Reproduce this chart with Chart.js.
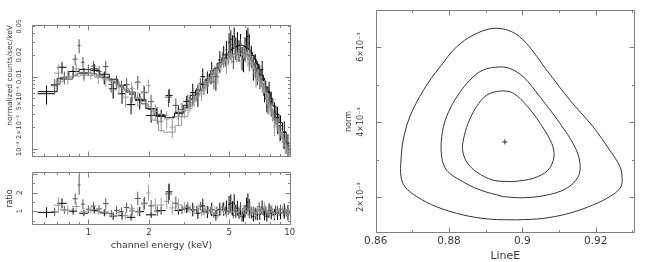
<!DOCTYPE html>
<html><head><meta charset="utf-8">
<script src="https://cdn.jsdelivr.net/npm/chart.js@4"></script>
<style>
html,body{margin:0;padding:0;background:#fff;width:657px;height:262px;overflow:hidden}
canvas{position:absolute}
#c1{left:0;top:0}
#c2{left:0;top:158px}
#c3{left:330px;top:0}
</style></head><body>
<canvas id="c1" width="300" height="161"></canvas>
<canvas id="c2" width="300" height="104"></canvas>
<canvas id="c3" width="327" height="262"></canvas>
<script>
// ---------- spectrum data (keV, counts/s/keV) ----------
// series 1 (black)
const s1E  = [0.62,0.74,0.84,0.95,1.07,1.20,1.33,1.47,1.63,1.80,2.05,2.30,2.52,2.80,3.08,
              3.30,3.50,3.70,3.90,4.10,4.30,4.50,4.70,4.85,5.00,5.10,5.20,5.30,5.40,5.50,5.60,5.70,5.80,5.90,6.00,6.10,6.20,6.30,6.45,6.60,6.75,6.90,7.10,7.30,7.50,7.70,7.90,8.10,8.40,8.70,9.00,9.40,9.80];
const s1dE = [0.06,0.04,0.04,0.05,0.05,0.06,0.06,0.07,0.08,0.09,0.12,0.12,0.10,0.12,0.12,
              0.1,0.1,0.1,0.1,0.1,0.1,0.1,0.1,0.05,0.05,0.05,0.05,0.05,0.05,0.05,0.05,0.05,0.05,0.05,0.05,0.05,0.05,0.05,0.075,0.075,0.075,0.075,0.1,0.1,0.1,0.1,0.1,0.1,0.15,0.15,0.15,0.2,0.2];
const s1F  = [.0058,.0135,.0118,.0112,.0128,.0098,.0068,.0058,.0041,.0047,.0029,.0029,.0055,.0032,.0045,
              .0060,.0058,.0100,.0088,.0120,.0100,.0170,.0200,.0235,.0300,.0330,.0280,.0360,.0260,.0310,.0240,.0290,.0190,.0180,.0260,.0330,.0360,.0290,.0200,.0140,.0150,.0120,.0105,.0125,.0070,.0052,.0062,.0045,.0032,.0027,.0021,.0017,.0011];
const s1dF = [.0017,.0025,.0022,.0020,.0022,.0020,.0018,.0016,.0011,.0012,.0006,.0006,.0012,.0007,.0009,
              .0020,.0020,.0030,.0030,.0040,.0036,.0055,.0065,.0080,.0100,.0110,.0095,.0120,.0090,.0105,.0080,.0100,.0068,.0065,.0090,.0110,.0120,.0100,.0068,.0052,.0055,.0044,.0038,.0040,.0026,.0020,.0023,.0017,.0012,.0011,.0008,.0007,.0005];
const s1M  = [.0062,.0095,.0118,.0126,.0122,.0108,.0092,.0076,.0061,.0048,.0036,.0028,.0027,.0031,.0040,
              .0055,.0065,.0078,.0092,.0110,.0130,.0155,.0180,.0200,.0220,.0232,.0243,.0252,.0260,.0266,.0270,.0272,.0271,.0268,.0262,.0255,.0246,.0236,.0218,.0196,.0173,.0150,.0126,.0105,.0087,.0072,.0060,.0050,.0039,.0030,.0023,.0017,.0012];
// series 2 (dark grey)
const s2E  = [0.68,0.76,0.86,0.90,0.94,1.00,1.06,1.13,1.22,1.30,1.38,1.46,1.55,1.65,1.76,1.90,2.05,2.20,2.50,2.72,2.92,3.12,
              3.30,3.45,3.60,3.75,3.90,4.05,4.20,4.35,4.50,4.65,4.80,4.95,5.10,5.25,5.40,5.55,5.70,5.85,6.00,6.15,6.30,6.45,6.60,6.75,6.90,7.05,7.20,7.40,7.60,7.80,8.00,8.25,8.50,8.75,9.00,9.30,9.60,9.90];
const s2dE = [0.03,0.035,0.025,0.015,0.02,0.03,0.03,0.035,0.04,0.04,0.04,0.04,0.05,0.05,0.06,0.07,0.07,0.08,0.1,0.1,0.1,0.1,
              0.075,0.075,0.075,0.075,0.075,0.075,0.075,0.075,0.075,0.075,0.075,0.075,0.075,0.075,0.075,0.075,0.075,0.075,0.075,0.075,0.075,0.075,0.075,0.075,0.075,0.075,0.075,0.1,0.1,0.1,0.1,0.125,0.125,0.125,0.125,0.15,0.15,0.15];
const s2F  = [.0075,.0098,.0175,.0270,.0158,.0125,.0140,.0118,.0138,.0078,.0085,.0072,.0078,.0058,.0084,.0060,.0045,.0030,.0052,.0040,.0035,.0046,
              .0050,.0058,.0080,.0070,.0084,.0098,.0085,.0128,.0140,.0185,.0175,.0182,.0215,.0160,.0230,.0205,.0280,.0215,.0200,.0240,.0150,.0175,.0160,.0130,.0120,.0125,.0090,.0068,.0060,.0038,.0043,.0030,.0028,.0020,.0019,.0013,.0011,.00095];
const s2dF = [.0018,.0020,.0030,.0060,.0030,.0022,.0025,.0022,.0028,.0018,.0018,.0016,.0017,.0014,.0018,.0014,.0011,.0008,.0014,.0010,.0008,.0010,
              .0010,.0012,.0015,.0014,.0017,.0020,.0018,.0026,.0028,.0035,.0035,.0036,.0043,.0034,.0046,.0041,.0052,.0043,.0040,.0048,.0032,.0035,.0032,.0026,.0024,.0024,.0018,.0014,.0012,.0008,.0009,.0006,.0006,.0004,.0004,.0003,.00025,.0002];
const s2M  = [.0078,.0092,.0105,.0112,.0115,.0113,.0110,.0105,.0098,.0090,.0082,.0073,.0065,.0057,.0050,.0042,.0035,.0030,.0027,.0028,.0032,.0038,
              .0048,.0055,.0063,.0072,.0082,.0095,.0108,.0122,.0137,.0152,.0168,.0183,.0196,.0207,.0215,.0220,.0222,.0220,.0213,.0202,.0188,.0170,.0152,.0133,.0115,.0099,.0085,.0070,.0058,.0048,.0040,.0032,.0026,.0021,.0017,.0014,.0012,.0010];
// series 3 (light grey)
const s3E  = [0.71,0.79,0.87,0.95,1.03,1.12,1.22,1.32,1.42,1.53,1.64,1.76,1.88,1.99,2.15,2.30,2.45,2.61,2.80,3.00,
              3.20,3.35,3.50,3.65,3.80,3.95,4.10,4.25,4.40,4.55,4.70,4.85,5.00,5.15,5.30,5.45,5.60,5.75,5.90,6.05,6.20,6.35,6.50,6.65,6.80,6.95,7.10,7.30,7.50,7.70,7.90,8.15,8.40,8.65,8.90,9.20,9.50,9.80];
const s3dE = [0.035,0.04,0.04,0.04,0.04,0.045,0.05,0.05,0.05,0.055,0.055,0.06,0.06,0.05,0.08,0.07,0.08,0.08,0.1,0.1,
              0.075,0.075,0.075,0.075,0.075,0.075,0.075,0.075,0.075,0.075,0.075,0.075,0.075,0.075,0.075,0.075,0.075,0.075,0.075,0.075,0.075,0.075,0.075,0.075,0.075,0.075,0.075,0.1,0.1,0.1,0.1,0.125,0.125,0.125,0.125,0.15,0.15,0.15];
const s3F  = [.0112,.0100,.0128,.0105,.0112,.0098,.0090,.0065,.0072,.0052,.0068,.0050,.0062,.0075,.0033,.0024,.0026,.0020,.0028,.0034,
              .0040,.0048,.0062,.0058,.0080,.0090,.0105,.0118,.0100,.0150,.0165,.0140,.0200,.0190,.0225,.0195,.0215,.0160,.0220,.0195,.0175,.0210,.0150,.0135,.0090,.0105,.0085,.0075,.0075,.0052,.0038,.0036,.0020,.0022,.0016,.0015,.0011,.0009];
const s3dF = [.0035,.0022,.0025,.0020,.0020,.0019,.0018,.0016,.0016,.0014,.0015,.0012,.0014,.0016,.0009,.0007,.0007,.0006,.0007,.0008,
              .0008,.0010,.0012,.0012,.0016,.0018,.0021,.0024,.0022,.0030,.0033,.0030,.0040,.0038,.0045,.0039,.0043,.0034,.0044,.0039,.0035,.0040,.0030,.0027,.0020,.0021,.0017,.0015,.0014,.0010,.0008,.0007,.0005,.00045,.00035,.0003,.00025,.0002];
const s3M  = [.0085,.0095,.0102,.0105,.0104,.0100,.0094,.0086,.0077,.0068,.0060,.0052,.0045,.0038,.0025,.0018,.0017,.0017,.0021,.0028,
              .0036,.0045,.0054,.0063,.0073,.0085,.0098,.0112,.0127,.0143,.0158,.0172,.0185,.0195,.0203,.0208,.0210,.0208,.0202,.0193,.0180,.0165,.0149,.0132,.0116,.0100,.0087,.0072,.0060,.0049,.0040,.0032,.0026,.0021,.0017,.0014,.0011,.00095];

// ---------- axis ticks / labels ----------
const specXTicks  = [1, 2, 5, 10];
const specXLabels = ['1', '2', '5', '10'];
const specXMinor  = [0.6, 0.7, 0.8, 0.9, 3, 4, 6, 7, 8, 9];
const specYTicks  = [0.001, 0.002, 0.005, 0.01, 0.02, 0.05];
const specYLabels = ['10⁻³', '2×10⁻³', '5×10⁻³', '0.01', '0.02', '0.05'];
const specYMajor  = [0.001, 0.01];
const specYMinor  = [0.0008, 0.0009, 0.002, 0.003, 0.004, 0.005, 0.006, 0.007, 0.008, 0.009, 0.02, 0.03, 0.04, 0.05];
const ratioYTicks  = [1, 2];
const ratioYLabels = ['1', '2'];
const ratioYMajor  = [1, 2, 3];
const ratioYMinor  = [0.5, 1.5, 2.5];

// ---------- contour (LineE vs norm) ----------
const cont1E = [0.8975,0.9030,0.9070,0.9086,0.9080,0.9048,0.9011,0.8975,0.8943,0.8903,0.8875,0.8852,0.8839,0.8837,0.8848,0.8875,0.8920,0.8975];
const cont1N = [2.41e-3,2.50e-3,2.72e-3,3.07e-3,3.43e-3,3.97e-3,4.45e-3,4.77e-3,4.83e-3,4.72e-3,4.41e-3,3.97e-3,3.52e-3,3.25e-3,2.94e-3,2.67e-3,2.45e-3,2.41e-3];
const cont2E = [0.8948,0.9002,0.9066,0.9120,0.9152,0.9157,0.9143,0.9102,0.9048,0.9002,0.8966,0.8939,0.8893,0.8857,0.8821,0.8793,0.8780,0.8780,0.8793,0.8830,0.8884,0.8948];
const cont2N = [2.01e-3,1.98e-3,2.05e-3,2.23e-3,2.54e-3,2.90e-3,3.34e-3,3.97e-3,4.67e-3,5.21e-3,5.43e-3,5.47e-3,5.39e-3,5.12e-3,4.67e-3,4.14e-3,3.61e-3,3.07e-3,2.72e-3,2.45e-3,2.19e-3,2.01e-3];
const cont3E = [0.8984,0.9057,0.9129,0.9193,0.9238,0.9266,0.9272,0.9266,0.9238,0.9193,0.9129,0.9066,0.9011,0.8971,0.8920,0.8866,0.8821,0.8775,0.8730,0.8693,0.8675,0.8669,0.8669,0.8680,0.8712,0.8766,0.8839,0.8911,0.8984];
const cont3N = [1.39e-3,1.43e-3,1.57e-3,1.79e-3,2.01e-3,2.23e-3,2.45e-3,2.81e-3,3.25e-3,3.87e-3,4.59e-3,5.39e-3,6.10e-3,6.41e-3,6.50e-3,6.32e-3,6.01e-3,5.47e-3,4.85e-3,4.14e-3,3.52e-3,2.99e-3,2.54e-3,2.27e-3,2.01e-3,1.74e-3,1.52e-3,1.41e-3,1.39e-3];
const bestE = [0.8952];
const bestN = [3.47e-3];
const contXTicks  = [0.86, 0.88, 0.9, 0.92];
const contXLabels = ['0.86', '0.88', '0.9', '0.92'];
const contXMinor  = [0.87, 0.89, 0.91, 0.93];
const contYTicks  = [0.002, 0.004, 0.006];
const contYLabels = ['2×10⁻³', '4×10⁻³', '6×10⁻³'];
const contYMinor  = [0.003, 0.005, 0.007];

// ---------- helpers ----------
const FONT = 'DejaVu Sans';
const TXT = '#3a3a3a';
const FRAME = '#808080';
const COLS = ['#000000', '#555555', '#9a9a9a'];

function crossPts(E, dE, V, dV) {
  const out = [];
  for (let i = 0; i < E.length; i++) {
    out.push({x: E[i] - dE[i], y: V[i]}, {x: E[i] + dE[i], y: V[i]}, {x: E[i], y: null},
             {x: E[i], y: V[i] - dV[i]}, {x: E[i], y: V[i] + dV[i]}, {x: E[i], y: null});
  }
  return out;
}
function stepPts(E, dE, M) {
  const out = [];
  for (let i = 0; i < E.length; i++) out.push({x: E[i] - dE[i], y: M[i]}, {x: E[i] + dE[i], y: M[i]});
  return out;
}
function xyPts(X, Y) { return X.map((x, i) => ({x, y: Y[i]})); }

const frameTicks = {
  id: 'frameTicks',
  afterDatasetsDraw(chart, args, o) {
    const {ctx, chartArea: a} = chart;
    const xs = chart.scales.x, ys = chart.scales.y;
    const L = Math.round(a.left) + 0.5, R = Math.round(a.right) - 0.5;
    const T = Math.round(a.top) + 0.5, B = Math.round(a.bottom) - 0.5;
    ctx.save();
    ctx.strokeStyle = o.color || FRAME; ctx.lineWidth = 1;
    ctx.beginPath();
    ctx.moveTo(L, T); ctx.lineTo(R, T); ctx.lineTo(R, B); ctx.lineTo(L, B); ctx.closePath();
    const xin = v => v >= xs.min && v <= xs.max, yin = v => v >= ys.min && v <= ys.max;
    [[o.xMajor || [], 5], [o.xMinor || [], 2.5]].forEach(([vals, len]) => vals.filter(xin).forEach(v => {
      const p = Math.round(xs.getPixelForValue(v)) + 0.5;
      ctx.moveTo(p, B); ctx.lineTo(p, B - len); ctx.moveTo(p, T); ctx.lineTo(p, T + len);
    }));
    [[o.yMajor || [], 5], [o.yMinor || [], 2.5]].forEach(([vals, len]) => vals.filter(yin).forEach(v => {
      const p = Math.round(ys.getPixelForValue(v)) + 0.5;
      ctx.moveTo(L, p); ctx.lineTo(L + len, p); ctx.moveTo(R, p); ctx.lineTo(R - len, p);
    }));
    ctx.stroke();
    ctx.restore();
  }
};

Chart.defaults.animation = false;
Chart.defaults.responsive = false;
Chart.defaults.devicePixelRatio = 1;
Chart.defaults.events = [];
Chart.defaults.plugins.legend.display = false;
Chart.defaults.plugins.tooltip.enabled = false;
Chart.defaults.font.family = FONT;
Chart.defaults.color = TXT;

const lineDs = (data, color, extra) => Object.assign({data, borderColor: color, borderWidth: 1, showLine: true,
  pointRadius: 0, fill: false, tension: 0}, extra || {});

const series = [
  [s1E, s1dE, s1F, s1dF, s1M],
  [s2E, s2dE, s2F, s2dF, s2M],
  [s3E, s3dE, s3F, s3dF, s3M]
];

// ---------- top: spectrum ----------
const specSets = [];
series.forEach(([E, dE, F, dF, M], k) => {
  specSets.push(lineDs(stepPts(E, dE, M), COLS[k], {stepped: true}));
  specSets.push(lineDs(crossPts(E, dE, F, dF), COLS[k]));
});
specSets.reverse();

new Chart(document.getElementById('c1'), {
  type: 'scatter',
  data: {datasets: specSets},
  options: {
    layout: {padding: {top: 25, right: 9, left: 0, bottom: 1}},
    scales: {
      x: {type: 'logarithmic', min: 0.525, max: 10.15, display: false},
      y: {
        type: 'logarithmic', min: 0.00078, max: 0.052,
        afterFit(s) { s.width = 32; },
        afterBuildTicks(s) { s.ticks = specYTicks.map(v => ({value: v})); },
        grid: {display: false, drawTicks: false},
        border: {display: false},
        ticks: {autoSkip: false, minRotation: 90, maxRotation: 90, crossAlign: 'center', padding: 0.5,
                font: {size: 6.5}, callback: (v, i) => specYLabels[i]},
        title: {display: true, text: 'normalized counts/sec/keV', align: 'end', font: {size: 7.5}, padding: {top: 5.5, bottom: 0}}
      }
    },
    plugins: {frameTicks: {xMajor: specXTicks, xMinor: specXMinor, yMajor: specYMajor, yMinor: specYMinor}}
  },
  plugins: [frameTicks]
});

// ---------- bottom: ratio ----------
const ratioSets = [];
series.forEach(([E, dE, F, dF, M], k) => {
  const R = F.map((f, i) => f / M[i]);
  const dR = dF.map((d, i) => d / M[i]);
  ratioSets.push(lineDs(crossPts(E, dE, R, dR), COLS[k]));
});
ratioSets.reverse();

new Chart(document.getElementById('c2'), {
  type: 'scatter',
  data: {datasets: ratioSets},
  options: {
    layout: {padding: {top: 2, right: 9, left: 0, bottom: 0}},
    scales: {
      x: {
        type: 'logarithmic', min: 0.525, max: 10.15,
        afterFit(s) { s.height = 37; },
        afterBuildTicks(s) { s.ticks = specXTicks.map(v => ({value: v})); },
        grid: {display: false, drawTicks: false},
        border: {display: false},
        ticks: {autoSkip: false, minRotation: 0, maxRotation: 0, padding: 3, font: {size: 8.5},
                callback: (v, i) => specXLabels[i]},
        title: {display: true, text: 'channel energy (keV)', font: {size: 9.5}, padding: {top: 0, bottom: 11}}
      },
      y: {
        type: 'linear', min: 0.26, max: 3.1,
        afterFit(s) { s.width = 32; },
        afterBuildTicks(s) { s.ticks = ratioYTicks.map(v => ({value: v})); },
        grid: {display: false, drawTicks: false},
        border: {display: false},
        ticks: {autoSkip: false, minRotation: 90, maxRotation: 90, crossAlign: 'center', padding: 9.5,
                font: {size: 7.5}, callback: (v, i) => ratioYLabels[i]},
        title: {display: true, text: 'ratio', font: {size: 8}, padding: {top: 5.5, bottom: 0}}
      }
    },
    plugins: {frameTicks: {xMajor: specXTicks, xMinor: specXMinor, yMajor: ratioYMajor, yMinor: ratioYMinor}}
  },
  plugins: [frameTicks]
});

// ---------- right: confidence contours ----------
new Chart(document.getElementById('c3'), {
  type: 'scatter',
  data: {datasets: [
    lineDs(xyPts(cont1E, cont1N), '#333333', {tension: 0.35}),
    lineDs(xyPts(cont2E, cont2N), '#333333', {tension: 0.35}),
    lineDs(xyPts(cont3E, cont3N), '#333333', {tension: 0.35}),
    {data: xyPts(bestE, bestN), showLine: false, pointStyle: 'cross', pointRadius: 2.5, borderColor: '#333333', borderWidth: 1}
  ]},
  options: {
    layout: {padding: {top: 10, right: 22, left: 0, bottom: 0}},
    scales: {
      x: {
        type: 'linear', min: 0.86, max: 0.9307,
        afterFit(s) { s.height = 29; },
        afterBuildTicks(s) { s.ticks = contXTicks.map(v => ({value: v})); },
        grid: {display: false, drawTicks: false},
        border: {display: false},
        ticks: {autoSkip: false, minRotation: 0, maxRotation: 0, padding: 2, font: {size: 10.5},
                callback: (v, i) => contXLabels[i]},
        title: {display: true, text: 'LineE', font: {size: 11}, padding: {top: 0, bottom: -1}}
      },
      y: {
        type: 'linear', min: 0.00104, max: 0.00699,
        afterFit(s) { s.width = 45.7; },
        afterBuildTicks(s) { s.ticks = contYTicks.map(v => ({value: v})); },
        grid: {display: false, drawTicks: false},
        border: {display: false},
        ticks: {autoSkip: false, minRotation: 90, maxRotation: 90, crossAlign: 'center', padding: 0,
                font: {size: 8}, callback: (v, i) => contYLabels[i]},
        title: {display: true, text: 'norm', font: {size: 8}, padding: {top: 14, bottom: 0}}
      }
    },
    plugins: {frameTicks: {xMajor: contXTicks, xMinor: contXMinor, yMajor: contYTicks, yMinor: contYMinor}}
  },
  plugins: [frameTicks]
});
</script>
</body></html>
